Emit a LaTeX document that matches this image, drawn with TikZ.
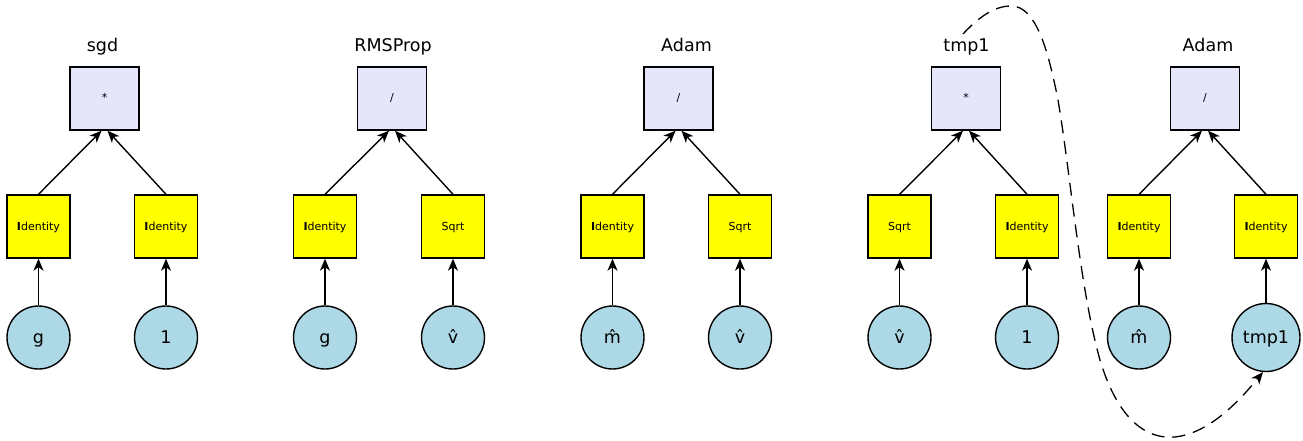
\documentclass[tikz,border=0pt]{standalone}
\usepackage{fontspec}
\setmainfont{DejaVu Sans}
\usetikzlibrary{arrows.meta}
\definecolor{lav}{HTML}{E6E6FA}
\definecolor{yel}{HTML}{FFFF00}
\definecolor{lblue}{HTML}{ADD8E6}
\begin{document}
\begin{tikzpicture}[x=1pt,y=-1pt,
  opbox/.style={draw, line width=1.4pt, fill=lav, minimum width=69pt, minimum height=63pt, inner sep=0pt, text height=8pt, text depth=1pt, font=\fontsize{11}{11}\selectfont},
  fnbox/.style={draw, line width=1.4pt, fill=yel, minimum width=63pt, minimum height=63pt, inner sep=0pt, text height=8pt, text depth=1pt, font=\fontsize{11}{11}\selectfont},
  var/.style={circle, draw, line width=1.4pt, fill=lblue, minimum size=63pt, inner sep=0pt, text height=13pt, text depth=2pt, font=\fontsize{17.5}{17.5}\selectfont},
  ttl/.style={anchor=base, inner sep=0pt, font=\fontsize{17.5}{17.5}\selectfont},
  arr/.style={-{Stealth[length=12pt,width=10pt,inset=3.5pt]}, line width=1.4pt},
  dasharr/.style={-{Stealth[length=12pt,width=10pt,inset=3.5pt]}, line width=1.3pt, dash pattern=on 13pt off 8pt}]
\useasboundingbox (0,0) rectangle (1303,441);
\newcommand{\Ident}{\textbf{I}dentity}
% cluster 1: sgd
\node[ttl] (t1) at (102.5,52) {sgd};
\node[opbox] (o1) at (104.5,98.5) {*};
\node[fnbox] (f1a) at (38.5,226.5) {\Ident};
\node[fnbox] (f1b) at (166,226.5) {\Ident};
\node[var] (v1a) at (38.5,337.5) {g};
\node[var] (v1b) at (166,337.5) {1};
% cluster 2: RMSProp
\node[ttl] (t2) at (393,52) {RMSProp};
\node[opbox] (o2) at (392,98.5) {/};
\node[fnbox] (f2a) at (325,226.5) {\Ident};
\node[fnbox] (f2b) at (453,226.5) {Sqrt};
\node[var] (v2a) at (325,337.5) {g};
\node[var] (v2b) at (453,337.5) {v̂};
% cluster 3: Adam
\node[ttl] (t3) at (686.5,52) {Adam};
\node[opbox] (o3) at (678.5,98.5) {/};
\node[fnbox] (f3a) at (612.5,226.5) {\Ident};
\node[fnbox] (f3b) at (740,226.5) {Sqrt};
\node[var] (v3a) at (612.5,337.5) {m̂};
\node[var] (v3b) at (740,337.5) {v̂};
% cluster 4: tmp1
\node[ttl] (t4) at (966.5,52) {tmp1};
\node[opbox] (o4) at (966,98.5) {*};
\node[fnbox] (f4a) at (899.5,226.5) {Sqrt};
\node[fnbox] (f4b) at (1027,226.5) {\Ident};
\node[var] (v4a) at (899.5,337.5) {v̂};
\node[var] (v4b) at (1027,337.5) {1};
% cluster 5: Adam
\node[ttl] (t5) at (1208,52) {Adam};
\node[opbox] (o5) at (1205,98.5) {/};
\node[fnbox] (f5a) at (1139,226.5) {\Ident};
\node[fnbox] (f5b) at (1266,226.5) {\Ident};
\node[var] (v5a) at (1139,337.5) {m̂};
\node[var, minimum size=68pt] (v5b) at (1266,337.5) {tmp1};
% edges
\foreach \c in {1,2,3,4,5}{
  \draw[arr] (v\c a.north) -- (f\c a.south);
  \draw[arr] (v\c b.north) -- (f\c b.south);
  \draw[arr] (f\c a.north) -- ([xshift=-3pt]o\c.south);
  \draw[arr] (f\c b.north) -- ([xshift=3pt]o\c.south);
}
% dashed link
\coordinate (ds) at (963,34);
\draw[dasharr] (ds) .. controls (985,10) and (1005,2) .. (1020,8)
  .. controls (1040,18) and (1050,60) .. (1058,100)
  .. controls (1070,170) and (1080,290) .. (1100,360)
  .. controls (1115,410) and (1140,440) .. (1175,437)
  .. controls (1210,433) and (1240,400) .. (v5b.-95);
\end{tikzpicture}
\end{document}
